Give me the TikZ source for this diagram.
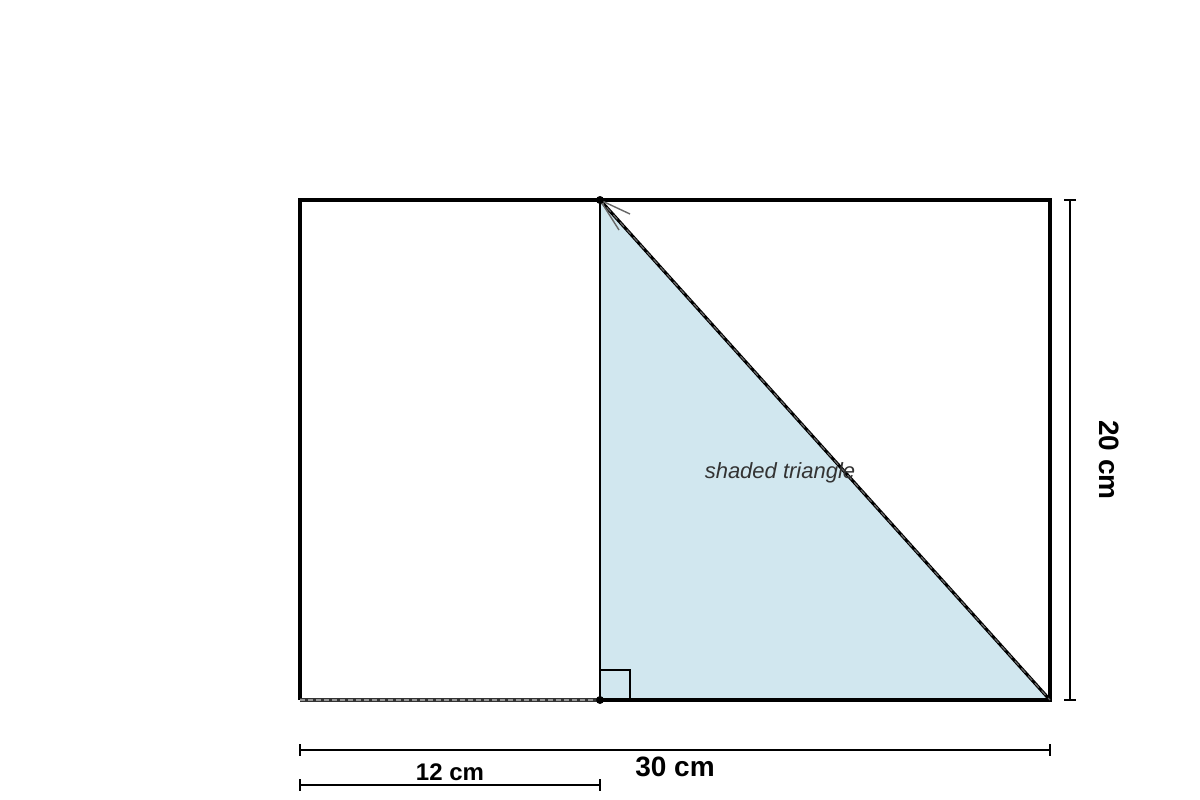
\documentclass[tikz,border=0pt]{standalone}
\usepackage{fontspec}
\setmainfont{Liberation Sans}
\definecolor{triblue}{HTML}{D1E7EF}
\definecolor{txtgray}{HTML}{333333}
\definecolor{lgray}{HTML}{666666}
\begin{document}
\begin{tikzpicture}[x=1pt,y=-1pt,
  frame/.style={line width=3.2pt,line join=miter},
  dimline/.style={line width=1.6pt},
  dimlbl/.style={font=\bfseries\fontsize{28}{30}\selectfont},
  dotst/.style={circle,fill=black,inner sep=0pt,minimum size=8pt}]
\useasboundingbox (0,0) rectangle (1200,800);
% corners
\coordinate (TL) at (300,200);
\coordinate (TR) at (1050,200);
\coordinate (BR) at (1050,700);
\coordinate (BL) at (300,700);
\coordinate (T) at (600,200);
\coordinate (B) at (600,700);
% triangle fill
\fill[triblue] (T) -- (B) -- (BR) -- cycle;
% frame
\draw[frame] (B) -- (BR) -- (TR) -- (TL) -- (BL);
\draw[black!80,line width=3.2pt] (BL) -- (B);
\draw[lgray!70,line width=1.6pt,dash pattern=on 5pt off 3pt] (BL) -- (B);
\draw[line width=2.6pt] (T) -- (B);
% hypotenuse
\draw[line width=3.2pt] (T) -- (BR);
\draw[lgray,line width=1.2pt,dash pattern=on 6pt off 4pt] (T) -- (BR);
% right angle mark
\draw[line width=1.6pt] (600,670) -- (630,670) -- (630,700);
% arrowhead at apex
\coordinate (A1) at (630,214);
\coordinate (A2) at (619,230);
\draw[lgray,line width=1.4pt] (A1) -- (T) -- (A2);
% dots
\node[dotst] (dT) at (T) {};
\node[dotst] (dB) at (B) {};
% label
\node[font=\itshape\fontsize{22}{24}\selectfont,text=txtgray] (lbl) at (780,473) {shaded triangle};
% dimension 30
\coordinate (d30a) at (300,750);
\coordinate (d30b) at (1050,750);
\draw[dimline] (d30a) -- (d30b);
\draw[dimline] (300,744) -- (300,756);
\draw[dimline] (1050,744) -- (1050,756);
\node[dimlbl] (l30) at (675,767) {30 cm};
% dimension 12
\coordinate (d12a) at (300,785);
\coordinate (d12b) at (600,785);
\draw[dimline] (d12a) -- (d12b);
\draw[dimline] (300,779) -- (300,791);
\draw[dimline] (600,779) -- (600,791);
\node[font=\bfseries\fontsize{24}{26}\selectfont] (l12) at (450,772) {12 cm};
% dimension 20
\coordinate (d20a) at (1070,200);
\coordinate (d20b) at (1070,700);
\draw[dimline] (d20a) -- (d20b);
\draw[dimline] (1064,200) -- (1076,200);
\draw[dimline] (1064,700) -- (1076,700);
\node[dimlbl,rotate=-90] (l20) at (1109,460) {20 cm};
\end{tikzpicture}
\end{document}
